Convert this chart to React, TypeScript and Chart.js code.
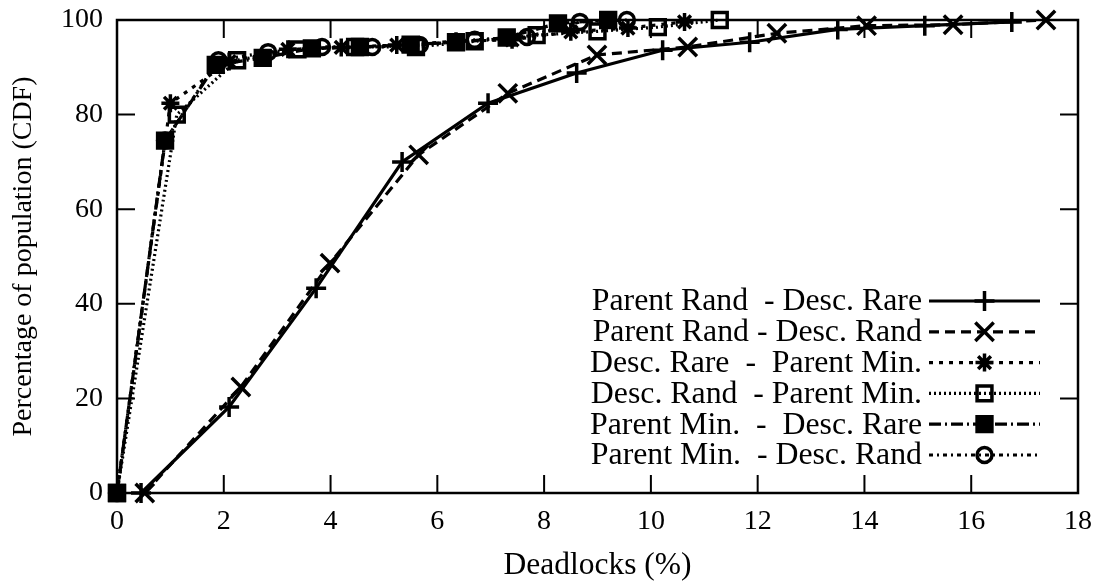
import React, { useEffect, useRef } from 'react';
import { Chart, registerables } from 'chart.js';
import { drawPoint } from 'chart.js/helpers';

Chart.register(...registerables);

// Axis ticks
const xTicks = [0, 2, 4, 6, 8, 10, 12, 14, 16, 18];
const yTicks = [0, 20, 40, 60, 80, 100];

// Series labels (gnuplot key text)
const seriesLabels = [
  'Parent Rand  - Desc. Rare',
  'Parent Rand - Desc. Rand',
  'Desc. Rare  -  Parent Min.',
  'Desc. Rand  - Parent Min.',
  'Parent Min.  -  Desc. Rare',
  'Parent Min.  - Desc. Rand',
];

// Parent Rand - Desc. Rare
const prdrX = [0.45, 2.1, 3.73, 5.34, 6.95, 8.61, 10.22, 11.85, 13.5, 15.13, 16.76];
const prdrY = [0, 18.2, 43.3, 70, 82.4, 88.8, 93.6, 95.3, 98, 98.8, 99.6];

// Parent Rand - Desc. Rand
const prdnX = [0.52, 2.32, 3.99, 5.65, 7.32, 8.99, 10.69, 12.36, 14.04, 15.66, 17.4];
const prdnY = [0, 22.4, 48.6, 71.5, 84.5, 92.6, 94.3, 97.2, 98.8, 99, 100];

// Desc. Rare - Parent Min.
const drpmX = [0, 1.0, 2.1, 3.2, 4.2, 5.24, 6.35, 7.4, 8.5, 9.57, 10.63];
const drpmY = [0, 82.4, 91.2, 93.8, 94.2, 94.7, 95.5, 95.8, 97.5, 98.3, 99.6];

// Desc. Rand - Parent Min.
const dnpmX = [0, 1.12, 2.25, 3.38, 4.46, 5.6, 6.7, 7.86, 9.0, 10.13, 11.29];
const dnpmY = [0, 80, 91.5, 93.8, 94.3, 94.3, 95.5, 96.8, 97.6, 98.5, 100];

// Parent Min. - Desc. Rare
const pmdrX = [0, 0.9, 1.85, 2.73, 3.65, 4.55, 5.5, 6.35, 7.3, 8.26, 9.2];
const pmdrY = [0, 74.5, 90.5, 92, 94, 94.3, 94.8, 95.3, 96.3, 99.3, 100];

// Parent Min. - Desc. Rand
const pmdnX = [0, 0.9, 1.9, 2.83, 3.84, 4.78, 5.67, 6.7, 7.68, 8.67, 9.55];
const pmdnY = [0, 74.5, 91.5, 93.2, 94.3, 94.3, 94.7, 95.8, 96.4, 99.6, 100];

const seriesX = [prdrX, prdnX, drpmX, dnpmX, pmdrX, pmdnX];
const seriesY = [prdrY, prdnY, drpmY, dnpmY, pmdrY, pmdnY];

const FONT = '"Liberation Serif", "Times New Roman", serif';

const styles = [
  { dash: [], pointStyle: 'cross', radius: 10, fill: 'rgba(0,0,0,0)' },
  { dash: [10, 6], pointStyle: 'crossRot', radius: 13, fill: 'rgba(0,0,0,0)' },
  { dash: [4, 6], pointStyle: 'star', radius: 9, fill: 'rgba(0,0,0,0)' },
  { dash: [2, 3], pointStyle: 'rect', radius: 10.5, fill: 'rgba(0,0,0,0)' },
  { dash: [12, 4, 2, 4], pointStyle: 'rect', radius: 10.5, fill: '#000' },
  { dash: [4, 4, 2, 4], pointStyle: 'circle', radius: 7.5, fill: 'rgba(0,0,0,0)' },
];

const boxPlugin = {
  id: 'gnuBox',
  afterDraw(chart: any) {
    const { ctx, chartArea: a, scales } = chart;
    const xs = scales.x;
    const ys = scales.y;
    ctx.save();
    ctx.strokeStyle = '#000';
    ctx.setLineDash([]);
    ctx.lineWidth = 2;
    const TL = 18;
    ctx.beginPath();
    for (const v of xTicks) {
      const px = xs.getPixelForValue(v);
      ctx.moveTo(px, a.bottom);
      ctx.lineTo(px, a.bottom - TL);
      ctx.moveTo(px, a.top);
      ctx.lineTo(px, a.top + TL);
    }
    for (const v of yTicks) {
      const py = ys.getPixelForValue(v);
      ctx.moveTo(a.left, py);
      ctx.lineTo(a.left + TL, py);
      ctx.moveTo(a.right, py);
      ctx.lineTo(a.right - TL, py);
    }
    ctx.stroke();
    ctx.lineWidth = 2.5;
    ctx.strokeRect(a.left, a.top, a.right - a.left, a.bottom - a.top);

    // Key (legend)
    const textRight = 922;
    const lineL = 929;
    const lineR = 1040;
    const top = 301;
    const step = 30.8;
    ctx.font = `31.8px ${FONT}`;
    ctx.textAlign = 'right';
    ctx.textBaseline = 'middle';
    seriesLabels.forEach((lab, i) => {
      const yy = top + i * step;
      ctx.fillStyle = '#000';
      ctx.fillText(lab, textRight, yy + 1);
      const st = styles[i];
      ctx.lineWidth = 3.2;
      ctx.setLineDash(st.dash);
      ctx.beginPath();
      ctx.moveTo(lineL, yy);
      ctx.lineTo(lineR, yy);
      ctx.stroke();
      ctx.setLineDash([]);
      ctx.fillStyle = st.fill;
      ctx.lineWidth = 3.5;
      drawPoint(ctx, { pointStyle: st.pointStyle, radius: st.radius, rotation: 0, borderWidth: 3.5 } as any, (lineL + lineR) / 2, yy);
    });
    ctx.restore();
  },
};

export default function App() {
  const ref = useRef<HTMLCanvasElement>(null);
  useEffect(() => {
    if (!ref.current) return;
    const datasets = seriesLabels.map((label, i) => ({
      label,
      data: seriesX[i].map((x, j) => ({ x, y: seriesY[i][j] })),
      borderColor: '#000',
      borderWidth: 3.2,
      borderDash: styles[i].dash,
      pointStyle: styles[i].pointStyle,
      pointRadius: styles[i].radius,
      pointBorderWidth: 3.5,
      pointBorderColor: '#000',
      pointBackgroundColor: styles[i].fill,
      showLine: true,
      fill: false,
      tension: 0,
      clip: false as any,
    }));
    const chart = new Chart(ref.current, {
      type: 'scatter',
      data: { datasets },
      options: {
        responsive: false,
        animation: false,
        layout: { padding: { top: 20, right: 23, left: 0, bottom: 0 } },
        plugins: { legend: { display: false }, tooltip: { enabled: false } },
        scales: {
          x: {
            type: 'linear',
            min: 0,
            max: 18,
            afterBuildTicks: (s: any) => { s.ticks = xTicks.map((v) => ({ value: v })); },
            afterFit: (s: any) => { s.height = 92; s.paddingLeft = 0; s.paddingRight = 0; },
            grid: { display: false, drawTicks: false },
            border: { display: false },
            ticks: { color: '#000', font: { family: FONT, size: 28 }, padding: 12, maxRotation: 0 },
            title: { display: true, text: 'Deadlocks (%)', color: '#000', font: { family: FONT, size: 31.5 }, padding: { top: 0, bottom: 0 } },
          },
          y: {
            type: 'linear',
            min: 0,
            max: 100,
            afterBuildTicks: (s: any) => { s.ticks = yTicks.map((v) => ({ value: v })); },
            afterFit: (s: any) => { s.width = 117; s.paddingTop = 0; s.paddingBottom = 0; },
            grid: { display: false, drawTicks: false },
            border: { display: false },
            ticks: { color: '#000', font: { family: FONT, size: 28 }, padding: 14 },
            title: { display: true, text: 'Percentage of population (CDF)', color: '#000', font: { family: FONT, size: 28 }, padding: { top: 7, bottom: 0 } },
          },
        },
      },
      plugins: [boxPlugin],
    } as any);
    return () => chart.destroy();
  }, []);
  return (
    <div style={{ position: 'fixed', left: 0, top: 0, width: 1101, height: 585, background: '#fff' }}>
      <canvas ref={ref} width={1101} height={585} />
    </div>
  );
}
